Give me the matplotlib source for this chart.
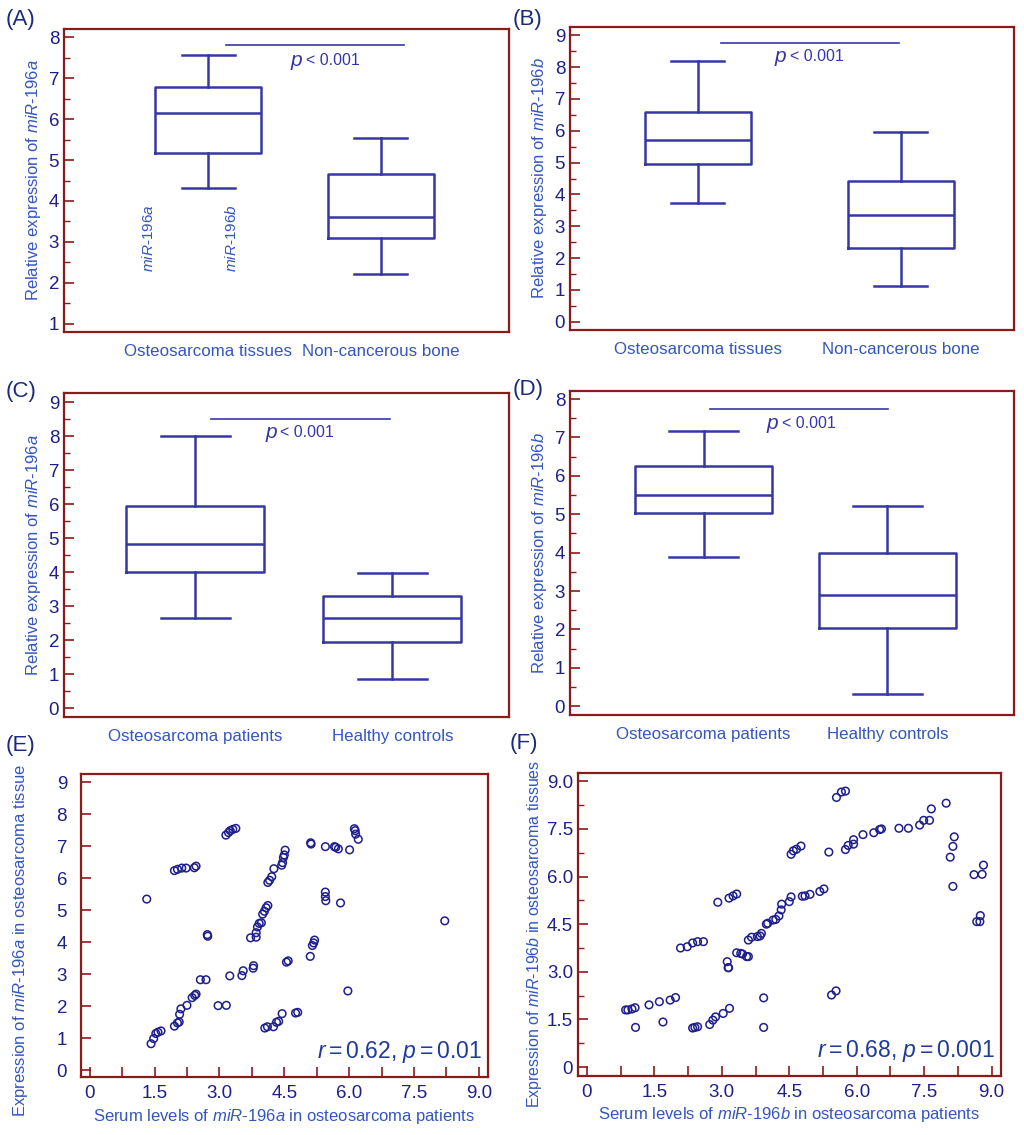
import matplotlib
matplotlib.use("Agg")
import matplotlib.pyplot as plt
from matplotlib.ticker import MultipleLocator, FixedLocator
import numpy as np

plt.rcParams['font.family'] = ['Liberation Sans', 'DejaVu Sans']
plt.rcParams['mathtext.fontset'] = 'custom'
plt.rcParams['mathtext.rm'] = 'Liberation Sans'
plt.rcParams['mathtext.it'] = 'Liberation Sans:italic'

SPINE = '#8b1a1a'
BOX = '#3636a6'
TICKLAB = '#1f1f8a'
LABEL = '#3456bd'
POINT = '#1e1e8c'

# box summaries: whislo, q1, median, q3, whishi
tissue_a = [4.31, 5.18, 6.14, 6.78, 7.57]
bone_a = [2.21, 3.09, 3.60, 4.66, 5.55]
tissue_b = [3.72, 4.97, 5.72, 6.59, 8.20]
bone_b = [1.12, 2.32, 3.35, 4.42, 5.95]
patients_a = [2.67, 4.01, 4.84, 5.96, 8.00]
controls_a = [0.87, 1.94, 2.65, 3.30, 3.98]
patients_b = [3.89, 5.02, 5.51, 6.26, 7.16]
controls_b = [0.33, 2.04, 2.89, 3.99, 5.21]

tissue_groups = ['Osteosarcoma tissues', 'Non-cancerous bone']
serum_groups = ['Osteosarcoma patients', 'Healthy controls']

# panel E: serum miR-196a vs tissue miR-196a
serum_a = [1.42, 1.48, 1.53, 1.58, 1.65, 1.96, 2.03, 2.07, 2.08, 2.11, 2.25, 2.37, 2.43, 2.46,
           2.56, 2.69, 2.72, 2.73, 2.97, 3.16, 3.24, 3.52, 3.55, 3.78, 3.79,
           3.72, 3.85, 3.85, 3.88, 3.92, 3.97, 4.00, 4.04, 4.08, 4.12,
           4.12, 4.16, 4.21, 4.26, 4.44, 4.46, 4.48, 4.50, 4.52,
           4.05, 4.11, 4.25, 4.32, 4.37, 4.45, 4.55, 4.59, 4.76, 4.81,
           5.10, 5.15, 5.18, 5.20, 5.11, 5.12, 5.45, 5.66, 5.69, 5.75, 6.01,
           5.45, 5.45, 5.46, 5.80, 5.97, 6.12, 6.14, 6.15, 6.21, 8.21, 1.32,
           1.96, 2.03, 2.13, 2.23, 2.42, 2.46, 3.15, 3.21, 3.25, 3.31, 3.38]
tissue_a_pts = [0.83, 0.99, 1.15, 1.19, 1.23, 1.38, 1.48, 1.51, 1.75, 1.92, 2.03, 2.27, 2.34, 2.38,
                2.83, 2.83, 4.24, 4.19, 2.02, 2.03, 2.95, 2.96, 3.11, 3.19, 3.27,
                4.14, 4.16, 4.30, 4.48, 4.59, 4.61, 4.88, 4.97, 5.08, 5.15,
                5.87, 5.94, 6.05, 6.30, 6.41, 6.49, 6.65, 6.73, 6.88,
                1.32, 1.36, 1.36, 1.50, 1.53, 1.77, 3.38, 3.42, 1.79, 1.81,
                3.56, 3.90, 3.98, 4.07, 7.11, 7.07, 6.99, 6.99, 6.97, 6.92, 6.89,
                5.57, 5.43, 5.30, 5.23, 2.48, 7.55, 7.49, 7.38, 7.22, 4.67, 5.35,
                6.24, 6.28, 6.32, 6.32, 6.33, 6.38, 7.35, 7.43, 7.49, 7.53, 7.56]

# panel F: serum miR-196b vs tissue miR-196b
serum_b = [0.86, 0.91, 1.00, 1.07, 1.08, 1.38, 1.61, 1.69, 1.85, 1.97,
           2.35, 2.40, 2.46, 2.73, 2.80, 2.86, 3.03, 3.17,
           2.08, 2.23, 2.35, 2.46, 2.59, 2.91, 3.16, 3.25, 3.33,
           3.12, 3.14, 3.15, 3.33, 3.42, 3.46, 3.55, 3.59,
           3.59, 3.66, 3.79, 3.85, 3.88, 3.93, 3.93,
           3.99, 4.02, 4.14, 4.20, 4.27, 4.32, 4.33, 4.50, 4.54, 4.79, 4.85, 4.96, 5.18, 5.27,
           4.54, 4.59, 4.66, 4.76, 5.38, 5.44, 5.54, 5.55, 5.66, 5.75,
           5.75, 5.81, 5.93, 5.93, 6.14, 6.38, 6.51, 6.55,
           6.94, 7.15, 7.40, 7.49, 7.62, 7.66, 7.99,
           8.08, 8.14, 8.17, 8.14, 8.61, 8.79, 8.82, 8.67, 8.75, 8.74]
tissue_b_pts = [1.80, 1.80, 1.83, 1.87, 1.25, 1.96, 2.06, 1.42, 2.11, 2.19,
                1.23, 1.25, 1.27, 1.34, 1.48, 1.58, 1.69, 1.85,
                3.75, 3.79, 3.91, 3.95, 3.95, 5.19, 5.32, 5.39, 5.45,
                3.32, 3.13, 3.13, 3.60, 3.58, 3.56, 3.48, 3.48,
                4.00, 4.09, 4.11, 4.13, 4.21, 2.18, 1.25,
                4.50, 4.53, 4.63, 4.65, 4.76, 4.95, 5.13, 5.21, 5.36, 5.38, 5.39, 5.44, 5.53, 5.61,
                6.70, 6.81, 6.86, 6.96, 6.77, 2.27, 2.40, 8.49, 8.66, 8.69,
                6.85, 6.98, 7.02, 7.16, 7.32, 7.38, 7.48, 7.50,
                7.52, 7.52, 7.62, 7.77, 7.77, 8.13, 8.31,
                6.61, 6.95, 7.25, 5.69, 6.06, 6.07, 6.36, 4.58, 4.77, 4.58]

W, H = 1024, 1135
fig = plt.figure(figsize=(W / 100, H / 100), dpi=100)


def add_axes(l, t, r, b):
    return fig.add_axes([l / W, 1 - b / H, (r - l) / W, (b - t) / H])


def style(ax):
    for s in ax.spines.values():
        s.set_color(SPINE)
        s.set_linewidth(1.6)
    ax.tick_params(which='both', direction='in', color=SPINE, labelcolor=TICKLAB,
                   labelsize=13.5, right=False, top=False)
    ax.tick_params(which='major', length=7, width=1.2)
    ax.tick_params(which='minor', length=4, width=1.0)


def box_panel(ax, groups, labels, pos, width, ylim, pline, ptext, ylabel):
    stats = [dict(whislo=g[0], q1=g[1], med=g[2], q3=g[3], whishi=g[4], fliers=[]) for g in groups]
    lp = dict(color=BOX, linewidth=1.8)
    ax.bxp(stats, positions=pos, widths=width, showfliers=False,
           boxprops=lp, whiskerprops=lp, capprops=lp, medianprops=lp)
    ax.set_xlim(0, 1)
    ax.set_ylim(*ylim)
    style(ax)
    ax.yaxis.set_major_locator(MultipleLocator(1))
    ax.yaxis.set_minor_locator(MultipleLocator(0.5))
    ax.set_xticks(pos)
    ax.set_xticklabels(labels, fontsize=12.2, color=LABEL)
    ax.tick_params(axis='x', length=0, pad=9, labelcolor=LABEL)
    ax.plot(pline[:2], [pline[2], pline[2]], color=BOX, linewidth=1.2)
    ax.text(ptext[0], ptext[2], 'p', style='italic', fontsize=15, color=BOX,
            ha='right', va='center')
    ax.text(ptext[1], ptext[2], '< 0.001', fontsize=11.5, color=BOX,
            ha='left', va='center')
    ax.set_ylabel(ylabel, fontsize=12, color=LABEL, labelpad=4)


ax_a = add_axes(64, 29, 509, 332)
box_panel(ax_a, [tissue_a, bone_a], tissue_groups, [0.324, 0.712], 0.238,
          (0.8, 8.2), (0.363, 0.764, 7.81), (0.535, 0.543, 7.43),
          r'Relative expression of $\mathit{miR}$-$\mathit{196a}$')
ax_a.text(0.189, 3.1, r'$\mathit{miR}$-$\mathit{196a}$', rotation=90, fontsize=11,
          color=LABEL, ha='center', va='center')
ax_a.text(0.376, 3.1, r'$\mathit{miR}$-$\mathit{196b}$', rotation=90, fontsize=11,
          color=LABEL, ha='center', va='center')

ax_b = add_axes(570, 27, 1014, 330)
box_panel(ax_b, [tissue_b, bone_b], tissue_groups, [0.288, 0.745], 0.239,
          (-0.26, 9.26), (0.339, 0.742, 8.75), (0.487, 0.495, 8.34),
          r'Relative expression of $\mathit{miR}$-$\mathit{196b}$')

ax_c = add_axes(64, 393, 509, 717)
box_panel(ax_c, [patients_a, controls_a], serum_groups, [0.295, 0.738], 0.31,
          (-0.25, 9.27), (0.331, 0.733, 8.50), (0.478, 0.486, 8.12),
          r'Relative expression of $\mathit{miR}$-$\mathit{196a}$')

ax_d = add_axes(570, 391, 1014, 715)
box_panel(ax_d, [patients_b, controls_b], serum_groups, [0.301, 0.715], 0.31,
          (-0.23, 8.21), (0.315, 0.717, 7.73), (0.469, 0.477, 7.36),
          r'Relative expression of $\mathit{miR}$-$\mathit{196b}$')


def scatter_panel(ax, x, y, ylim, ylabel, xlabel, note, ylabsize, labxy):
    ax.scatter(x, y, s=30, facecolors='none', edgecolors=POINT, linewidths=1.1, zorder=3)
    ax.set_xlim(-0.2, 9.21)
    ax.set_ylim(*ylim)
    style(ax)
    xt = np.arange(0, 9.01, 0.75)
    ax.set_xticks(xt)
    ax.set_xticklabels(['0' if v == 0 else ('%.1f' % v if i % 2 == 0 else '')
                        for i, v in enumerate(xt)])
    ax.tick_params(axis='x', pad=6)
    ax.set_ylabel(ylabel, fontsize=ylabsize, color=LABEL)
    ax.yaxis.set_label_coords(*labxy)
    ax.set_xlabel(xlabel, fontsize=12, color=LABEL, labelpad=3)
    ax.text(0.985, 0.04, note, transform=ax.transAxes, fontsize=16.5, color='#1f3a9a',
            ha='right', va='bottom')


ax_e = add_axes(81, 774, 488, 1077)
scatter_panel(ax_e, serum_a, tissue_a_pts, (-0.21, 9.26),
              r'Expression of $\mathit{miR}$-$\mathit{196a}$ in osteosarcoma tissue',
              r'Serum levels of $\mathit{miR}$-$\mathit{196a}$ in osteosarcoma patients',
              r'$\mathit{r}=0.62$, $\mathit{p}=0.01$', 12, (-0.125, 0.45))
ax_e.yaxis.set_major_locator(MultipleLocator(1))
ax_e.tick_params(axis='y', pad=10)

ax_f = add_axes(578, 773, 1001, 1076)
scatter_panel(ax_f, serum_b, tissue_b_pts, (-0.28, 9.26),
              r'Expression of $\mathit{miR}$-$\mathit{196b}$ in osteosarcoma tissues',
              r'Serum levels of $\mathit{miR}$-$\mathit{196b}$ in osteosarcoma patients',
              r'$\mathit{r}=0.68$, $\mathit{p}=0.001$', 11.5, (-0.08, 0.47))
ax_f.set_yticks(np.arange(0, 9.01, 1.5))
ax_f.set_yticklabels(['0'] + ['%.1f' % v for v in np.arange(1.5, 9.01, 1.5)])
ax_f.yaxis.set_minor_locator(FixedLocator(np.arange(0.75, 9.0, 1.5)))

for lab, x, y in [('(A)', 6, 19), ('(B)', 513, 19), ('(C)', 6, 391), ('(D)', 513, 389),
                  ('(E)', 6, 746), ('(F)', 510, 743)]:
    fig.text(x / W, 1 - y / H, lab, fontsize=16, color='#1b2a7a', ha='left', va='center')

fig.savefig('out.png', dpi=100)
